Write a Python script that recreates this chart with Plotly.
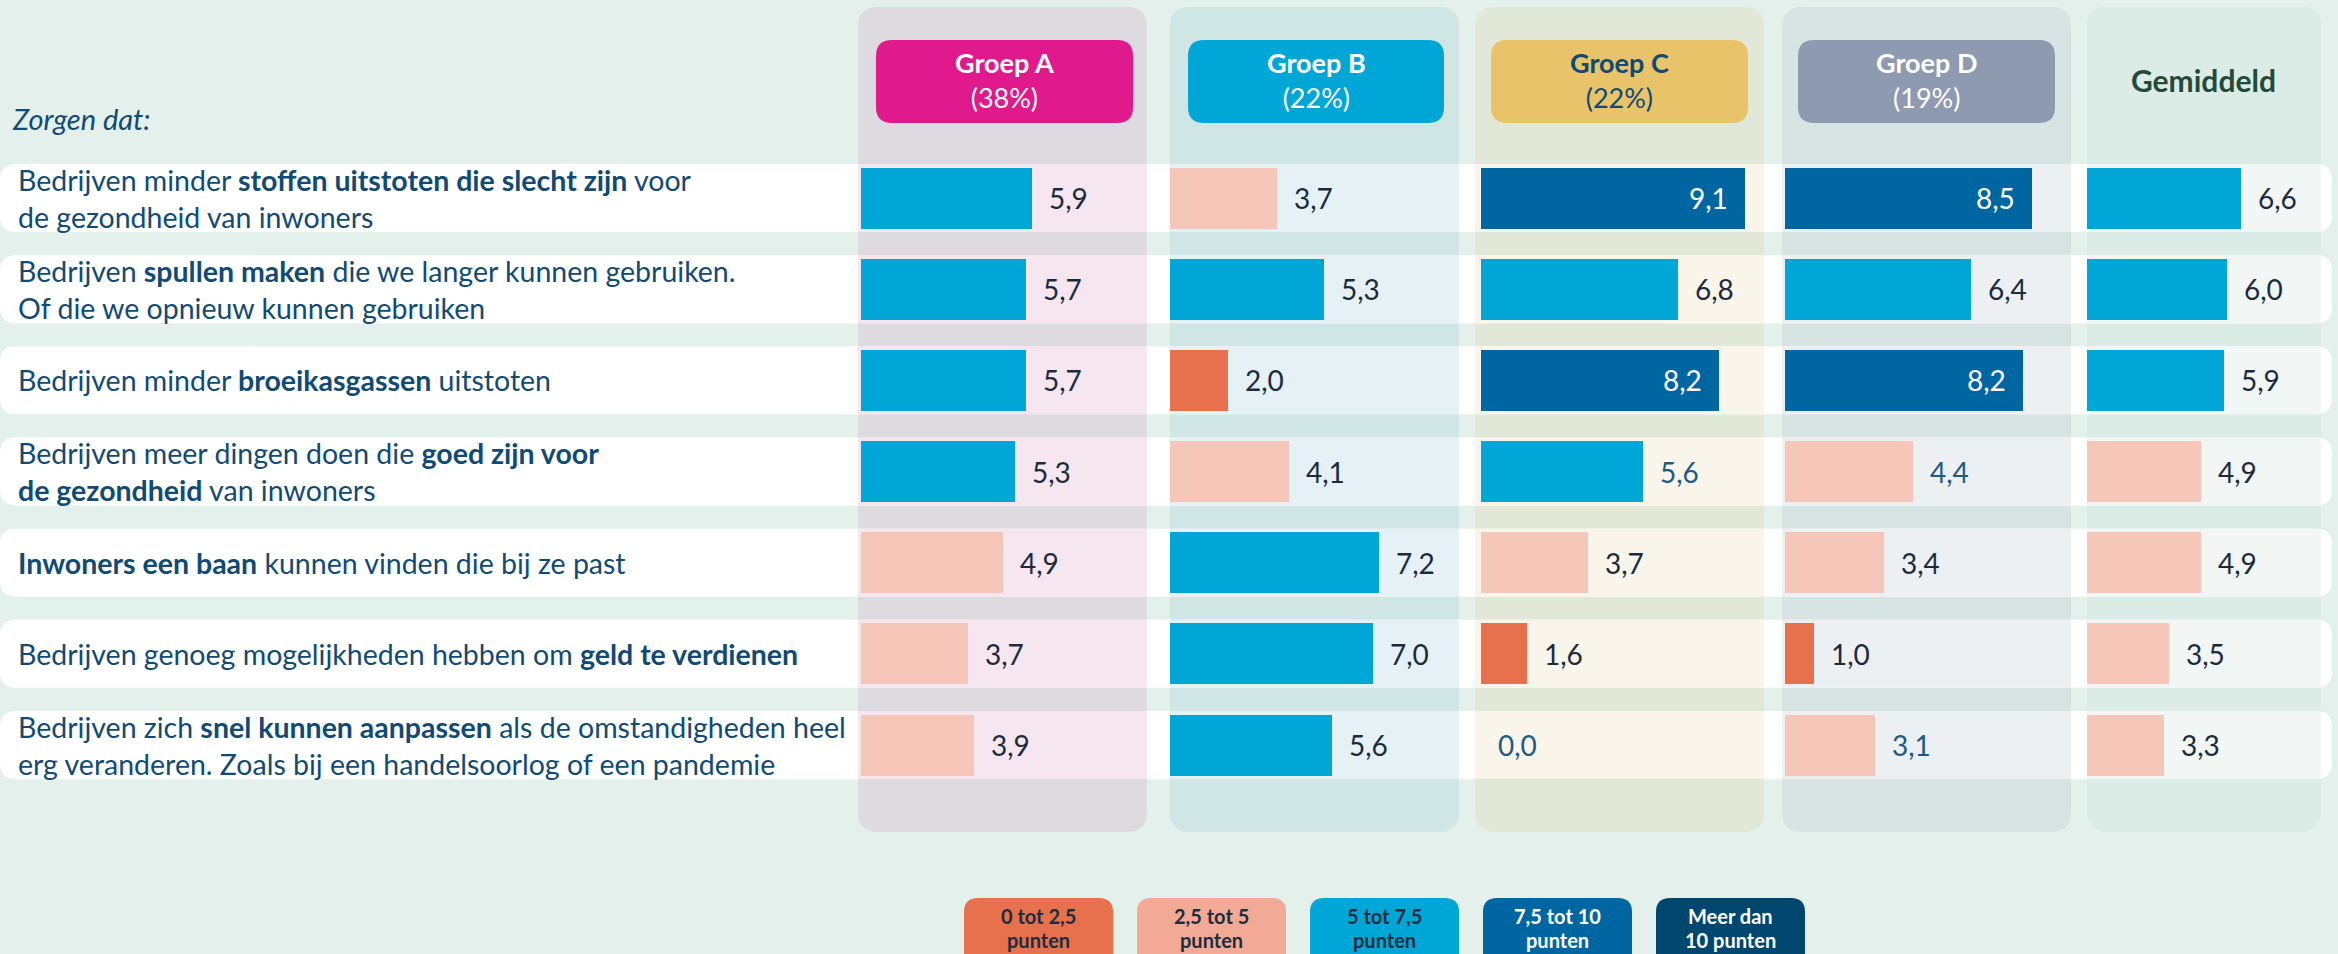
import plotly.graph_objects as go

# ---------------- data ----------------
categories = [
    "Bedrijven minder <b>stoffen uitstoten die slecht zijn</b> voor<br>de gezondheid van inwoners",
    "Bedrijven <b>spullen maken</b> die we langer kunnen gebruiken.<br>Of die we opnieuw kunnen gebruiken",
    "Bedrijven minder <b>broeikasgassen</b> uitstoten",
    "Bedrijven meer dingen doen die <b>goed zijn voor</b><br><b>de gezondheid</b> van inwoners",
    "<b>Inwoners een baan</b> kunnen vinden die bij ze past",
    "Bedrijven genoeg mogelijkheden hebben om <b>geld te verdienen</b>",
    "Bedrijven zich <b>snel kunnen aanpassen</b> als de omstandigheden heel<br>erg veranderen. Zoals bij een handelsoorlog of een pandemie",
]
groups = ["Groep A", "Groep B", "Groep C", "Groep D", "Gemiddeld"]
group_shares = ["(38%)", "(22%)", "(22%)", "(19%)", ""]

groep_a = [5.9, 5.7, 5.7, 5.3, 4.9, 3.7, 3.9]
groep_b = [3.7, 5.3, 2.0, 4.1, 7.2, 7.0, 5.6]
groep_c = [9.1, 6.8, 8.2, 5.6, 3.7, 1.6, 0.0]
groep_d = [8.5, 6.4, 8.2, 4.4, 3.4, 1.0, 3.1]
gemiddeld = [6.6, 6.0, 5.9, 4.9, 4.9, 3.5, 3.3]
series = [groep_a, groep_b, groep_c, groep_d, gemiddeld]

legend_labels = ["0 tot 2,5<br>punten", "2,5 tot 5<br>punten", "5 tot 7,5<br>punten",
                 "7,5 tot 10<br>punten", "Meer dan<br>10 punten"]
bin_edges = [2.5, 5, 7.5, 10]

# ---------------- styling ----------------
W, H = 2338, 954
FONT = "Source Sans Pro, Lato, sans-serif"
BG = "#E4F0EC"
bar_colors = ["#E8714D", "#F6C6B8", "#00A7D6", "#0066A1", "#00476F"]
legend_colors = ["#E8714D", "#F2AA96", "#00A7D6", "#0066A1", "#00476F"]
legend_text = ["#1B2D40", "#1B2D40", "#1B2D40", "#FFFFFF", "#FFFFFF"]
panel_out = ["#DEDBE0", "#CFE6E4", "#E2E8D8", "#D8E4E3", "#DBEBE5"]
panel_in = ["#F5E6EF", "#E6F1F6", "#FAF5EA", "#ECF0F2", "#F2F7F5"]
badge_colors = ["#E0198C", "#00A7D6", "#E8C36A", "#8E9AB0", None]
badge_text = ["#FFFFFF", "#FFFFFF", "#0E4A75", "#FFFFFF", "#234A3A"]
LABEL_COLOR = "#114A74"
VALUE_COLOR = "#1B2B3D"

# pixel layout
panel_px = [(858, 1147), (1170, 1459), (1475, 1764), (1782, 2071), (2087, 2321)]
axis_px = [(861, 290), (1170, 290), (1481, 290), (1785, 290), (2087, 233)]
badge_px = [(876, 1133), (1188, 1444), (1491, 1748), (1798, 2055), None]
ROW0, ROWSTEP = 198.0, 91.17  # pixel centre of first row, px per row


def px_x(p):
    return p / W


def px_y(p):
    return 1 - p / H


def rounded_path(x0, y0, x1, y1, rx, ry):
    return (f"M{x0+rx},{y0} L{x1-rx},{y0} Q{x1},{y0} {x1},{y0+ry} "
            f"L{x1},{y1-ry} Q{x1},{y1} {x1-rx},{y1} L{x0+rx},{y1} "
            f"Q{x0},{y1} {x0},{y1-ry} L{x0},{y0+ry} Q{x0},{y0} {x0+rx},{y0} Z")


def rounded_px(x0, y0, x1, y1, r):
    # pixel rect -> paper path (y flipped)
    return rounded_path(px_x(x0), px_y(y1), px_x(x1), px_y(y0), r / W, r / H)


def bin_index(v):
    for i, e in enumerate(bin_edges):
        if v < e:
            return i
    return len(bin_edges)


fig = go.Figure()
shapes = []
annotations = []

n = len(categories)
rows = list(range(n))
band_half = 34 / ROWSTEP
bar_w = 61 / ROWSTEP

# panels
for g in range(len(groups)):
    x0, x1 = panel_px[g]
    shapes.append(dict(type="path", xref="paper", yref="paper", layer="below",
                       path=rounded_px(x0, 7, x1, 832, 20),
                       fillcolor=panel_out[g], line=dict(width=0)))

# row bands (white, rounded) and tinted band parts inside panels
for i in rows:
    y0, y1 = i - band_half, i + band_half
    rx, ry = 16 / W, 16 / ROWSTEP
    shapes.append(dict(type="path", xref="paper", yref="y", layer="below",
                       path=rounded_path(0, y0, 2332 / W, y1, rx, ry),
                       fillcolor="#FFFFFF", line=dict(width=0)))
    for g in range(len(groups)):
        x0, x1 = panel_px[g]
        shapes.append(dict(type="rect", xref="paper", yref="y", layer="below",
                           x0=px_x(x0), x1=px_x(x1), y0=y0, y1=y1,
                           fillcolor=panel_in[g], line=dict(width=0)))

# category labels
for i, lab in enumerate(categories):
    annotations.append(dict(xref="paper", yref="y", x=px_x(16), y=i, text=lab,
                            xanchor="left", yanchor="middle", align="left",
                            showarrow=False,
                            font=dict(family=FONT, size=28.5, color=LABEL_COLOR)))

annotations.append(dict(xref="paper", yref="paper", x=px_x(10), y=px_y(118),
                        text="<i>Zorgen dat:</i>", xanchor="left", yanchor="middle",
                        showarrow=False, font=dict(family=FONT, size=29, color=LABEL_COLOR)))

# bars + value labels
blue_labels = {(2, 3), (3, 3), (2, 6), (3, 6)}
for g, vals in enumerate(series):
    xa = "x" if g == 0 else f"x{g+1}"
    fig.add_trace(go.Bar(x=vals, y=rows, orientation="h", width=bar_w,
                         marker=dict(color=[bar_colors[bin_index(v)] for v in vals],
                                     line=dict(width=0)),
                         xaxis=xa, yaxis="y", hoverinfo="skip", showlegend=False))
    for i, v in enumerate(vals):
        txt = f"{v:.1f}".replace(".", ",")
        inside = v >= 7.5
        col = "#FFFFFF" if inside else ("#1D5A85" if (g, i) in blue_labels else VALUE_COLOR)
        annotations.append(dict(xref=xa, yref="y", x=v, y=i, text=txt,
                                xanchor="right" if inside else "left",
                                xshift=-15 if inside else 15, yanchor="middle",
                                showarrow=False,
                                font=dict(family=FONT, size=28, color=col)))

# header badges
for g, name in enumerate(groups):
    if badge_px[g] is not None:
        x0, x1 = badge_px[g]
        shapes.append(dict(type="path", xref="paper", yref="paper",
                           path=rounded_px(x0, 40, x1, 123, 16),
                           fillcolor=badge_colors[g], line=dict(width=0)))
        cx = (x0 + x1) / 2
        annotations.append(dict(xref="paper", yref="paper", x=px_x(cx), y=px_y(80),
                                text=f"<b>{name}</b><br>{group_shares[g]}",
                                showarrow=False, align="center",
                                xanchor="center", yanchor="middle",
                                font=dict(family=FONT, size=27, color=badge_text[g])))
    else:
        annotations.append(dict(xref="paper", yref="paper", x=px_x(2203), y=px_y(80),
                                text=f"<b>{name}</b>", showarrow=False,
                                xanchor="center", yanchor="middle",
                                font=dict(family=FONT, size=30, color=badge_text[g])))

# legend boxes
for k, lab in enumerate(legend_labels):
    x0 = 964 + 173 * k
    x1 = x0 + 149
    shapes.append(dict(type="path", xref="paper", yref="paper",
                       path=rounded_px(x0, 898, x1, 985, 14),
                       fillcolor=legend_colors[k], line=dict(width=0)))
    l1, l2 = lab.split("<br>")
    for t, yy in ((l1, 916), (l2, 940)):
        annotations.append(dict(xref="paper", yref="paper", x=px_x((x0 + x1) / 2),
                                y=px_y(yy), text=f"<b>{t}</b>", showarrow=False,
                                xanchor="center", yanchor="middle",
                                font=dict(family=FONT, size=20, color=legend_text[k])))

layout_axes = {}
for g in range(len(groups)):
    key = "xaxis" if g == 0 else f"xaxis{g+1}"
    x0, w = axis_px[g]
    layout_axes[key] = dict(domain=[px_x(x0), px_x(x0 + w)], range=[0, 10],
                            visible=False, showgrid=False, zeroline=False,
                            anchor="y", fixedrange=True)

fig.update_layout(
    width=W, height=H, margin=dict(l=0, r=0, t=0, b=0),
    paper_bgcolor=BG, plot_bgcolor="rgba(0,0,0,0)",
    yaxis=dict(range=[(H - ROW0) / ROWSTEP, -ROW0 / ROWSTEP], domain=[0, 1],
               visible=False, showgrid=False, zeroline=False, fixedrange=True),
    shapes=shapes, annotations=annotations, bargap=0, showlegend=False,
    **layout_axes,
)

fig.write_html("out.html", config={"displayModeBar": False},
               post_script="document.body.style.margin='0';document.body.style.overflow='hidden';"
                           "document.body.style.background='" + BG + "';")
